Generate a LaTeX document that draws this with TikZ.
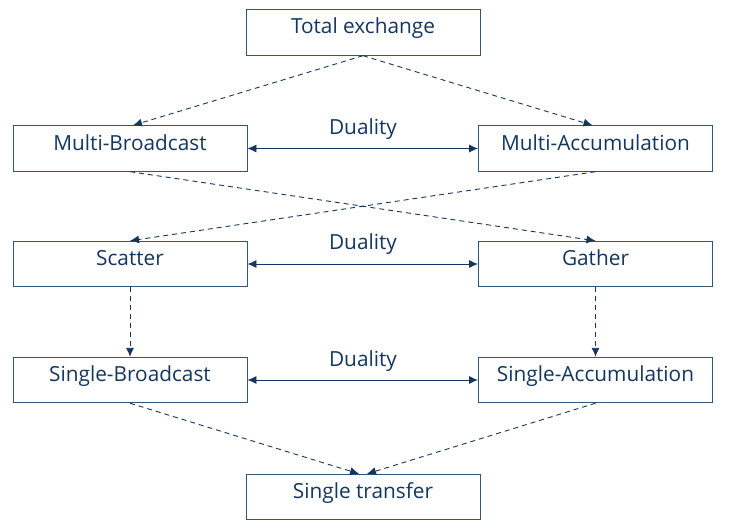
\documentclass[tikz,border=0pt]{standalone}
\usepackage{fontspec}
\setmainfont{Open Sans}
\usetikzlibrary{arrows.meta}
\definecolor{navy}{RGB}{20,54,94}
\definecolor{boxline}{RGB}{52,84,122}
\tikzset{
  box/.style={draw=boxline, line width=0.9pt, minimum width=234pt, minimum height=45.5pt,
    inner sep=0pt, text=navy, font=\fontsize{20.8}{24}\selectfont, text height=16pt, text depth=13pt},
  dasharrow/.style={draw=navy, line width=0.9pt, dash pattern=on 5pt off 4pt,
    -{Latex[length=9pt,width=8pt]}},
  dualarrow/.style={draw=navy, line width=0.9pt, {Latex[length=9pt,width=8pt]}-{Latex[length=9pt,width=8pt]}},
  duallabel/.style={text=navy, font=\fontsize{20.8}{24}\selectfont, inner sep=0pt}
}
\begin{document}
\begin{tikzpicture}[x=1pt,y=-1pt]
\useasboundingbox (0,0) rectangle (737,530);
\node[box] (te) at (363,32.5) {Total exchange};
\node[box] (mb) at (130,148.5) {Multi-Broadcast};
\node[box] (ma) at (595.5,148.5) {Multi-Accumulation};
\node[box] (sc) at (130,264) {Scatter};
\node[box] (ga) at (595.5,264) {Gather};
\node[box] (sb) at (130,380) {Single-Broadcast};
\node[box] (sa) at (595.5,380) {Single-Accumulation};
\node[box] (st) at (363,497) {Single transfer};

\draw[dasharrow] (te.south) -- ([xshift=3pt]mb.north);
\draw[dasharrow] (te.south) -- ([xshift=-3pt]ma.north);
\draw[dasharrow] (mb.south) -- (ga.north);
\draw[dasharrow] (ma.south) -- (sc.north);
\draw[dasharrow] (sc.south) -- (sb.north);
\draw[dasharrow] (ga.south) -- (sa.north);
\draw[dasharrow] (sb.south) -- ([xshift=-4pt]st.north);
\draw[dasharrow] (sa.south) -- ([xshift=4pt]st.north);

\draw[dualarrow] (mb.east) -- (ma.west);
\draw[dualarrow] (sc.east) -- (ga.west);
\draw[dualarrow] (sb.east) -- (sa.west);

\node[duallabel] (d1) at (363,129) {Duality};
\node[duallabel] (d2) at (363,244) {Duality};
\node[duallabel] (d3) at (363,361) {Duality};
\end{tikzpicture}
\end{document}
